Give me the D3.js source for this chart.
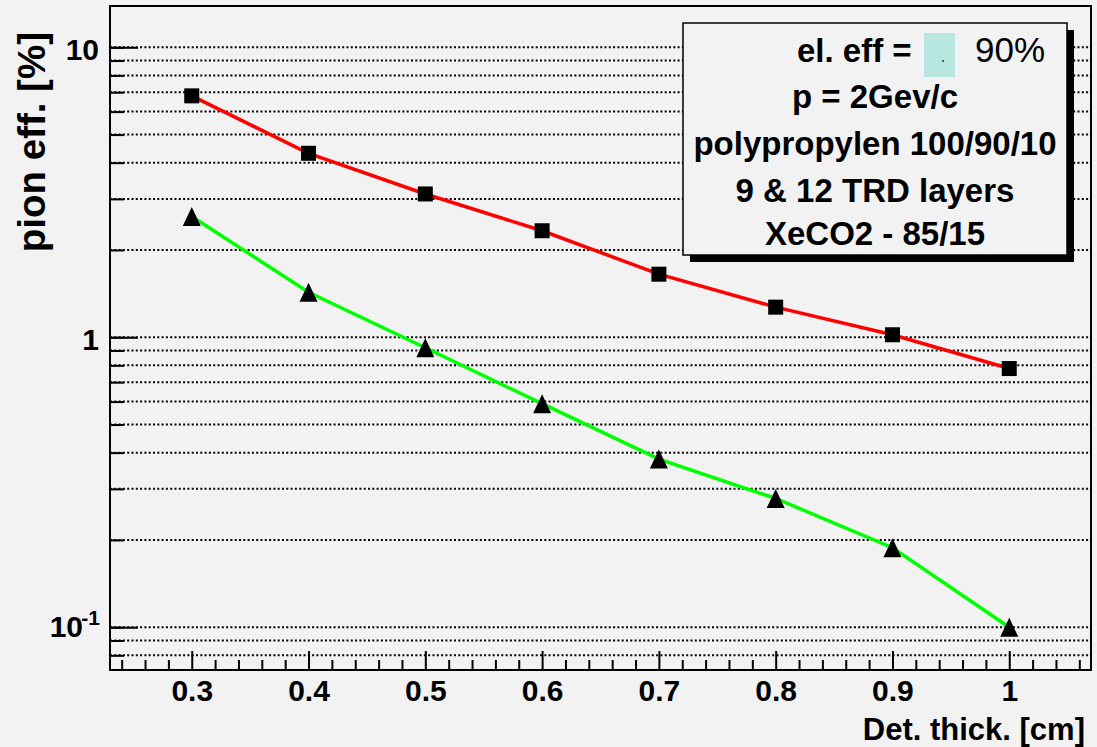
<!DOCTYPE html>
<html>
<head>
<meta charset="utf-8">
<script src="https://cdn.jsdelivr.net/npm/d3@7"></script>
<style>
  html, body { margin: 0; padding: 0; background: #f2f2f2; }
  svg { display: block; }
  text { font-family: "Liberation Sans", Arial, Helvetica, sans-serif; }
</style>
</head>
<body>
<svg id="chart" width="1097" height="747"></svg>
<script>
// Detector thickness [cm]
const thickness = [0.3, 0.4, 0.5, 0.6, 0.7, 0.8, 0.9, 1.0];
// Pion efficiency [%] at 90% electron efficiency
const pionEff9Layers  = [6.80, 4.31, 3.12, 2.33, 1.65, 1.27, 1.02, 0.78];
const pionEff12Layers = [2.61, 1.43, 0.92, 0.59, 0.38, 0.278, 0.188, 0.100];

const xMajorTicks = [0.3, 0.4, 0.5, 0.6, 0.7, 0.8, 0.9, 1.0];
const xTickLabels = ["0.3", "0.4", "0.5", "0.6", "0.7", "0.8", "0.9", "1"];
const yMajorTicks = [0.1, 1, 10];
const yTickBases  = ["10", "1", "10"];
const yTickExps   = ["-1", "", ""];
const legendLines = ["p = 2Gev/c", "polypropylen 100/90/10", "9 & 12 TRD layers", "XeCO2 - 85/15"];

const svg = d3.select("#chart");
const W = 1097, H = 747;
const frame = { left: 110, right: 1091, top: 6, bottom: 670 };

svg.append("rect").attr("width", W).attr("height", H).attr("fill", "#f2f2f2");

const x = d3.scaleLinear().domain([0.23, 1.07]).range([frame.left, frame.right]);
const y = d3.scaleLog().domain([0.0712, 13.88]).range([frame.bottom, frame.top]);

// minor decade values inside the y range
const yMinor = [];
[0.01, 0.1, 1, 10].forEach(dec => {
  for (let k = 1; k <= 9; k++) {
    const v = +(dec * k).toPrecision(3);
    if (v >= y.domain()[0] && v <= y.domain()[1]) yMinor.push(v);
  }
});
const xMinor = d3.range(0.24, 1.0701, 0.02).map(v => +v.toFixed(2))
  .filter(v => !xMajorTicks.some(t => Math.abs(t - v) < 1e-6));

// dotted horizontal grid
svg.append("g").selectAll("line").data(yMinor).join("line")
  .attr("x1", frame.left).attr("x2", frame.right)
  .attr("y1", d => y(d)).attr("y2", d => y(d))
  .attr("stroke", "#000").attr("stroke-width", 2)
  .attr("stroke-dasharray", "2,2.3");

// y axis ticks (drawn inward)
const yMinorAxis = d3.axisLeft(y).tickValues(yMinor).tickSize(-14).tickFormat("");
const yMajorAxis = d3.axisLeft(y).tickValues(yMajorTicks).tickSize(-28).tickFormat("");
[yMinorAxis, yMajorAxis].forEach(ax => {
  const g = svg.append("g").attr("transform", `translate(${frame.left},0)`).call(ax);
  g.select(".domain").remove();
  g.selectAll(".tick line").attr("stroke", "#000").attr("stroke-width", 2);
});

// x axis ticks (drawn inward)
const xMinorAxis = d3.axisBottom(x).tickValues(xMinor).tickSize(-10).tickFormat("");
const xMajorAxis = d3.axisBottom(x).tickValues(xMajorTicks).tickSize(-19).tickPadding(10)
  .tickFormat((d, i) => xTickLabels[i]);
[xMinorAxis, xMajorAxis].forEach(ax => {
  const g = svg.append("g").attr("transform", `translate(0,${frame.bottom})`).call(ax);
  g.select(".domain").remove();
  g.selectAll(".tick line").attr("stroke", "#000").attr("stroke-width", 2);
  g.selectAll(".tick text").attr("fill", "#000")
    .style("font-family", '"Liberation Sans", Arial, sans-serif')
    .style("font-size", "30px").style("font-weight", "bold");
});

// y tick labels with exponent
const yLab = svg.append("g");
yMajorTicks.forEach((v, i) => {
  if (yTickExps[i]) {
    yLab.append("text").attr("x", 83).attr("y", y(v) + 10).attr("text-anchor", "end")
      .style("font-size", "30px").style("font-weight", "bold").text(yTickBases[i]);
    yLab.append("text").attr("x", 100).attr("y", y(v) - 2).attr("text-anchor", "end")
      .style("font-size", "21px").style("font-weight", "bold").text(yTickExps[i]);
  } else {
    yLab.append("text").attr("x", 99).attr("y", y(v) + 12.5).attr("text-anchor", "end")
      .style("font-size", "30px").style("font-weight", "bold").text(yTickBases[i]);
  }
});

// frame
svg.append("rect")
  .attr("x", frame.left).attr("y", frame.top)
  .attr("width", frame.right - frame.left).attr("height", frame.bottom - frame.top)
  .attr("fill", "none").attr("stroke", "#000").attr("stroke-width", 2);

// series lines
const line = d3.line().x(d => x(d[0])).y(d => y(d[1]));
const series = [
  { values: pionEff9Layers,  color: "#ff0000", marker: "square" },
  { values: pionEff12Layers, color: "#00ff00", marker: "triangle" }
];
series.forEach(s => {
  svg.append("path").datum(thickness.map((t, i) => [t, s.values[i]]))
    .attr("d", line).attr("fill", "none")
    .attr("stroke", s.color).attr("stroke-width", 3.5);
});

// markers
const squareSym = { draw(ctx, size) { const h = Math.sqrt(size) / 2; ctx.rect(-h, -h, 2 * h, 2 * h); } };
const triSym = { draw(ctx, size) {
  const w = Math.sqrt(size); const hh = w * 19 / 18 / 2;
  ctx.moveTo(0, -hh); ctx.lineTo(w / 2, hh); ctx.lineTo(-w / 2, hh); ctx.closePath();
} };
series.forEach(s => {
  const sym = d3.symbol().type(s.marker === "square" ? squareSym : triSym)
    .size(s.marker === "square" ? 15 * 15 : 18 * 18);
  svg.append("g").selectAll("path").data(thickness.map((t, i) => [t, s.values[i]])).join("path")
    .attr("transform", d => `translate(${x(d[0])},${y(d[1])})`)
    .attr("d", sym).attr("fill", "#000");
});

// axis titles
svg.append("text").attr("x", 1085).attr("y", 740).attr("text-anchor", "end")
  .style("font-size", "31px").style("font-weight", "bold").text("Det. thick. [cm]");
svg.append("text").attr("transform", "translate(45,32) rotate(-90)").attr("text-anchor", "end")
  .style("font-size", "38.5px").style("font-weight", "bold").text("pion eff. [%]");

// info box with shadow
const box = { x: 683, y: 23, w: 384, h: 232 };
svg.append("rect").attr("x", box.x + 7).attr("y", box.y + 7).attr("width", box.w).attr("height", box.h)
  .attr("fill", "#000");
svg.append("rect").attr("x", box.x).attr("y", box.y).attr("width", box.w).attr("height", box.h)
  .attr("fill", "#f2f2f2").attr("stroke", "#000").attr("stroke-width", 1.5);

svg.append("text").attr("x", 797).attr("y", 62)
  .style("font-size", "33px").style("font-weight", "bold").text("el. eff =");
svg.append("rect").attr("x", 924).attr("y", 33).attr("width", 31).attr("height", 44).attr("fill", "#b8e6e0");
svg.append("circle").attr("cx", 943).attr("cy", 61).attr("r", 1).attr("fill", "#333");
svg.append("text").attr("x", 975).attr("y", 62)
  .style("font-size", "35px").style("font-weight", "normal").text("90%");

const baselines = [108.3, 155, 201.7, 245];
legendLines.forEach((t, i) => {
  svg.append("text").attr("x", box.x + box.w / 2).attr("y", baselines[i]).attr("text-anchor", "middle")
    .style("font-size", "33px").style("font-weight", "bold").text(t);
});
</script>
</body>
</html>
